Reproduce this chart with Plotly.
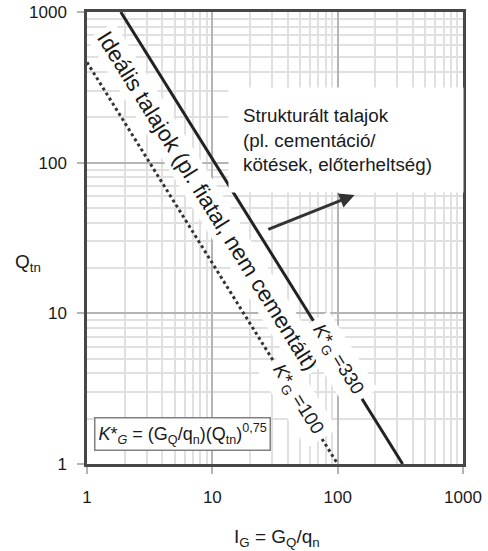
import math
import plotly.graph_objects as go

# Data (endpoints of the two straight lines on log-log axes)
k330_ig = [1.86, 330]
k330_qtn = [1000, 1]
k100_ig = [1, 100]
k100_qtn = [464, 1]

x_tickvals = [1, 10, 100, 1000]
x_ticktext = ["1", "10", "100", "1000"]
y_tickvals = [1, 10, 100, 1000]
y_ticktext = ["1", "10", "100", "1000"]

FONT = "Liberation Sans, Arial, sans-serif"
TXT = "#1a1a1a"

fig = go.Figure()
fig.add_trace(go.Scatter(x=k330_ig, y=k330_qtn, mode="lines",
                         line=dict(color="#222222", width=3), showlegend=False,
                         hoverinfo="skip"))
fig.add_trace(go.Scatter(x=k100_ig, y=k100_qtn, mode="lines",
                         line=dict(color="#333333", width=3, dash="dot"),
                         showlegend=False, hoverinfo="skip"))

L = math.log10
ann = []
# Ideális band
ann.append(dict(x=L(9.2), y=L(55.5), xref="x", yref="y", showarrow=False,
                text="Ideális talajok (pl. fiatal, nem cementált)", textangle=58,
                font=dict(family=FONT, size=22.5, color=TXT), bgcolor="white",
                borderpad=3, xanchor="center", yanchor="middle"))
# Strukturált box
ann.append(dict(x=L(13.3), y=L(141), xref="x", yref="y", showarrow=False,
                text="Strukturált talajok<br>(pl. cementáció/<br>kötések, előterheltség)",
                align="left", width=206, height=76, borderpad=14,
                font=dict(family=FONT, size=18.8, color=TXT), bgcolor="white",
                xanchor="left", yanchor="middle"))
# Arrow
ann.append(dict(x=L(136.5), y=L(61.0), ax=L(27.2), ay=L(35.7), xref="x", yref="y",
                axref="x", ayref="y", text="", showarrow=True, arrowhead=2,
                arrowsize=1, arrowwidth=3, arrowcolor="#333333", standoff=0))
# K labels
ann.append(dict(x=L(100), y=L(4.9), xref="x", yref="y", showarrow=False,
                text="<i>K</i>*<sub>G</sub> =330", textangle=58,
                font=dict(family=FONT, size=19, color=TXT), bgcolor="white",
                borderpad=6, xanchor="center", yanchor="middle"))
ann.append(dict(x=L(48), y=L(2.66), xref="x", yref="y", showarrow=False,
                text="<i>K</i>*<sub>G</sub> =100", textangle=58,
                font=dict(family=FONT, size=19, color=TXT), bgcolor="white",
                borderpad=6, xanchor="center", yanchor="middle"))
# Formula box
ann.append(dict(x=L(1.14), y=L(1.57), xref="x", yref="y", showarrow=False,
                text="<i>K</i>*<sub><i>G</i></sub> = (G<sub>Q</sub>/q<sub>n</sub>)(Q<sub>tn</sub>)<sup>0,75</sup>",
                font=dict(family=FONT, size=18, color=TXT), bgcolor="white",
                bordercolor="#808080", borderwidth=1.5, borderpad=3,
                xanchor="left", yanchor="middle"))
# Axis titles
ann.append(dict(x=-0.157, y=0.445, xref="paper", yref="paper", showarrow=False,
                text="Q<sub>tn</sub>", font=dict(family=FONT, size=19, color=TXT),
                xanchor="center", yanchor="middle"))
ann.append(dict(x=0.505, y=-0.163, xref="paper", yref="paper", showarrow=False,
                text="I<sub>G</sub> = G<sub>Q</sub>/q<sub>n</sub>",
                font=dict(family=FONT, size=19, color=TXT),
                xanchor="center", yanchor="middle"))

axis_common = dict(type="log", range=[0, 3], showgrid=True, gridcolor="#b4b4b4",
                   gridwidth=1.5, showline=True, linecolor="#474747", linewidth=2.5,
                   mirror=True, ticks="outside", ticklen=7, tickcolor="#b4b4b4",
                   tickwidth=1.5, zeroline=False, automargin=False,
                   tickfont=dict(family=FONT, size=17, color=TXT),
                   minor=dict(dtick="D1", showgrid=True, gridcolor="#e0e0e0",
                              gridwidth=1.5, ticks=""))

fig.update_layout(
    width=488, height=551,
    margin=dict(l=87, r=25, t=12, b=87, autoexpand=False),
    paper_bgcolor="white", plot_bgcolor="white",
    xaxis=dict(tickvals=x_tickvals, ticktext=x_ticktext, ticklabelstandoff=9,
               **axis_common),
    yaxis=dict(tickvals=y_tickvals, ticktext=y_ticktext, ticklabelstandoff=7,
               **axis_common),
    annotations=ann,
    showlegend=False,
)

# remove the page's default 8px body margin so the figure sits at the top-left corner
fig.write_html("out.html", config={"displayModeBar": False},
               post_script="document.body.style.margin='0';")
